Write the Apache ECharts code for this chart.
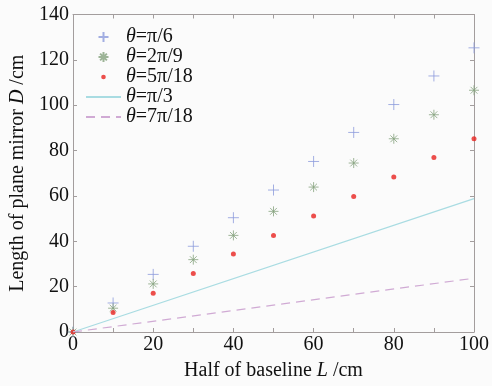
<!DOCTYPE html>
<html><head><meta charset="utf-8">
<script src="https://cdn.jsdelivr.net/npm/echarts@6/dist/echarts.min.js"></script>
<style>html,body{margin:0;padding:0;background:#fbfbfb;}#c{width:492px;height:386px;}</style>
</head><body><div id="c"></div>
<script>
const L = [0, 10, 20, 30, 40, 50, 60, 70, 80, 90, 100];
const dPi6 = [0, 12.8, 25.4, 37.8, 50.4, 62.6, 75.2, 88.0, 100.3, 112.9, 125.3];
const d2Pi9 = [0, 10.5, 21.2, 31.9, 42.6, 53.2, 63.9, 74.5, 85.2, 95.8, 106.6];
const d5Pi18 = [0, 8.6, 17.1, 25.8, 34.4, 42.6, 51.1, 59.7, 68.4, 77.0, 85.2];
const linePi3X = [0, 100], linePi3Y = [0, 58.8];
const line7Pi18X = [0, 100], line7Pi18Y = [0, 23.7];
const names = ['{i|θ}{n|=π/6}', '{i|θ}{n|=2π/9}', '{i|θ}{n|=5π/18}', '{i|θ}{n|=π/3}', '{i|θ}{n|=7π/18}'];
const xTicks = [0, 20, 40, 60, 80, 100];

const zip = (a, b) => a.map((v, i) => [v, b[i]]);
const font = "'Liberation Serif', serif";
const frame = '#a39d9d';
const plusPath = 'path://M0,5L10,5M5,0L5,10';
const starPath = 'path://M0,5L10,5M5,0L5,10M1.6,1.6L8.4,8.4M8.4,1.6L1.6,8.4';
const dotIcon = 'path://M0,0M10,10M7.3,5A2.3,2.3,0,1,1,2.7,5A2.3,2.3,0,1,1,7.3,5Z';
const rich = {
  n: {fontFamily: font, fontSize: 20, color: '#111', lineHeight: 18},
  i: {fontFamily: font, fontSize: 20, fontStyle: 'italic', color: '#111', lineHeight: 18}
};

const chart = echarts.init(document.getElementById('c'));
const axisCommon = {
  axisLine: {show: true, onZero: false, lineStyle: {color: frame, width: 1}},
  axisTick: {show: true, inside: true, length: 4, lineStyle: {color: frame}},
  splitLine: {show: false}
};
const noLineMark = {color: 'transparent', borderColor: 'transparent', borderWidth: 0};
chart.setOption({
  backgroundColor: '#fbfbfb',
  animation: false,
  textStyle: {fontFamily: font},
  grid: {left: 65, right: 18, top: 14.5, bottom: 50, containLabel: false},
  legend: {
    left: 85, top: 27, padding: 0, orient: 'vertical', itemWidth: 35, itemHeight: 10, itemGap: 0,
    textStyle: {fontFamily: font, fontSize: 20, color: '#111', lineHeight: 18, rich: rich},
    data: [
      {name: names[0]},
      {name: names[1]},
      {name: names[2], icon: dotIcon},
      {name: names[3], itemStyle: noLineMark},
      {name: names[4], itemStyle: noLineMark}
    ]
  },
  xAxis: [
    Object.assign({type: 'value', min: 0, max: 100, interval: 10, position: 'bottom',
      name: '{n|Half of baseline }{i|L}{n| /cm}', nameLocation: 'middle', nameGap: 30,
      nameTextStyle: {rich: rich},
      axisLabel: {margin: 4, rich: rich,
        formatter: v => xTicks.includes(v) ? '{n|' + v + '}' : ''}}, axisCommon),
    Object.assign({type: 'value', min: 0, max: 100, interval: 10, position: 'top',
      axisLabel: {show: false}}, axisCommon)
  ],
  yAxis: [
    Object.assign({type: 'value', min: 0, max: 140, interval: 20, position: 'left',
      name: '{n|Length of plane mirror }{i|D}{n| /cm}', nameLocation: 'middle', nameGap: 46, nameRotate: 90,
      nameTextStyle: {rich: rich},
      axisLabel: {margin: 4, rich: rich, formatter: v => '{n|' + v + '}'}}, axisCommon),
    Object.assign({type: 'value', min: 0, max: 140, interval: 20, position: 'right',
      axisLabel: {show: false}}, axisCommon)
  ],
  series: [
    {name: names[0], type: 'scatter', data: zip(L, dPi6), symbol: plusPath, symbolSize: 11,
      itemStyle: {color: 'transparent', borderColor: '#8c9bdc', borderWidth: 1}},
    {name: names[1], type: 'scatter', data: zip(L, d2Pi9), symbol: starPath, symbolSize: 10,
      itemStyle: {color: 'transparent', borderColor: '#86a27e', borderWidth: 1}},
    {name: names[2], type: 'scatter', data: zip(L, d5Pi18), symbol: 'circle', symbolSize: 5,
      itemStyle: {color: '#e8231f'}},
    {name: names[3], type: 'line', data: zip(linePi3X, linePi3Y), symbol: 'none',
      lineStyle: {color: '#a9dce2', width: 1.2}, itemStyle: {color: '#a9dce2'}},
    {name: names[4], type: 'line', data: zip(line7Pi18X, line7Pi18Y), symbol: 'none',
      lineStyle: {color: '#d0aad4', width: 1.2, type: [9, 6]}, itemStyle: {color: '#d0aad4'}}
  ]
});
</script></body></html>
